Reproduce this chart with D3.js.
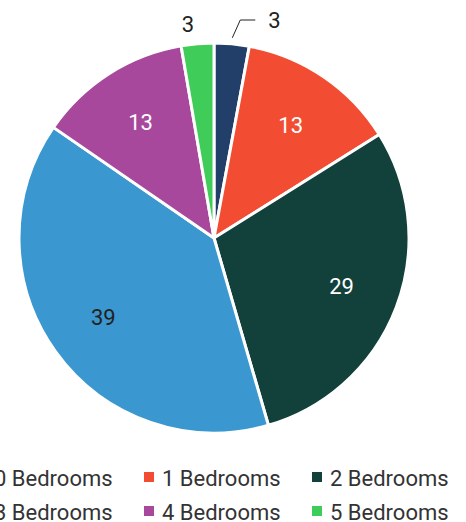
<!DOCTYPE html>
<html lang="en">
<head>
  <meta charset="UTF-8">
  <title>Bedrooms</title>
  <script src="https://cdn.jsdelivr.net/npm/d3@7"></script>
  <style>
    html, body {
      margin: 0;
      padding: 0;
      background: #fff;
      overflow: hidden;
    }
    svg text {
      font-family: Roboto, "Noto Sans", sans-serif;
    }
  </style>
</head>
<body>
  <svg id="chart" width="466" height="522"></svg>
  <script>
    // shares in percent; labels show them rounded
    const categories = ['0 Bedrooms', '1 Bedrooms', '2 Bedrooms', '3 Bedrooms', '4 Bedrooms', '5 Bedrooms'];
    const values = [2.9, 13.2, 29.4, 39.1, 12.7, 2.7];
    const colors = ['#213f69', '#f24d33', '#12403b', '#3a97cf', '#a8489c', '#40cc58'];
    const labelColors = ['#222', '#fff', '#fff', '#222', '#fff', '#222'];

    const svg = d3.select('#chart');
    const cx = 214, cy = 238, radius = 195;
    const fontSize = 22;

    const pie = d3.pie().sort(null).value(d => d);
    const arcs = pie(values);
    const arc = d3.arc().innerRadius(0).outerRadius(radius);
    const labelArc = d3.arc().innerRadius(radius * 0.7).outerRadius(radius * 0.7);

    const g = svg.append('g').attr('transform', `translate(${cx},${cy})`);

    g.selectAll('path')
      .data(arcs)
      .enter()
      .append('path')
      .attr('d', arc)
      .attr('fill', (d, i) => colors[i])
      .attr('stroke', '#fff')
      .attr('stroke-width', 3)
      .attr('stroke-linejoin', 'round');

    // inside labels for the big slices
    g.selectAll('text.inner')
      .data(arcs.filter(d => d.data >= 10))
      .enter()
      .append('text')
      .attr('class', 'inner')
      .attr('x', d => labelArc.centroid(d)[0])
      .attr('y', d => labelArc.centroid(d)[1])
      .attr('text-anchor', 'middle')
      .attr('dominant-baseline', 'central')
      .attr('font-size', fontSize)
      .attr('fill', d => labelColors[d.index])
      .text(d => Math.round(d.data));

    // small slices get outside labels
    arcs.filter(d => d.data < 10).forEach(d => {
      const mid = (d.startAngle + d.endAngle) / 2;
      const sx = Math.sin(mid), sy = -Math.cos(mid);
      if (sx > 0) {
        // right side: leader line with a short horizontal tail
        const p0 = [sx * (radius + 6), sy * (radius + 6)];
        const p1 = [p0[0] + 8, -(radius + 23)];
        const p2 = [p1[0] + 15, p1[1]];
        g.append('polyline')
          .attr('points', [p0, p1, p2].map(p => p.join(',')).join(' '))
          .attr('fill', 'none')
          .attr('stroke', '#222')
          .attr('stroke-width', 1);
        g.append('text')
          .attr('x', p2[0] + 13)
          .attr('y', p2[1])
          .attr('dominant-baseline', 'central')
          .attr('font-size', fontSize)
          .attr('fill', '#222')
          .text(Math.round(d.data));
      } else {
        g.append('text')
          .attr('x', sx * (radius + 16) - 2)
          .attr('y', sy * (radius + 19))
          .attr('text-anchor', 'end')
          .attr('dominant-baseline', 'central')
          .attr('font-size', fontSize)
          .attr('fill', '#222')
          .text(Math.round(d.data));
      }
    });

    // legend, 3 columns x 2 rows (first column runs off the left edge)
    const legend = svg.append('g').attr('transform', 'translate(-24,478)');
    const items = legend.selectAll('g')
      .data(categories)
      .enter()
      .append('g')
      .attr('transform', (d, i) => `translate(${(i % 3) * 168},${Math.floor(i / 3) * 34})`);
    items.append('rect')
      .attr('x', 0)
      .attr('y', -6)
      .attr('width', 10)
      .attr('height', 10)
      .attr('fill', (d, i) => colors[i]);
    items.append('text')
      .attr('x', 18)
      .attr('y', 0)
      .attr('dominant-baseline', 'central')
      .attr('font-size', fontSize)
      .attr('fill', '#333')
      .text(d => d);
  </script>
</body>
</html>
